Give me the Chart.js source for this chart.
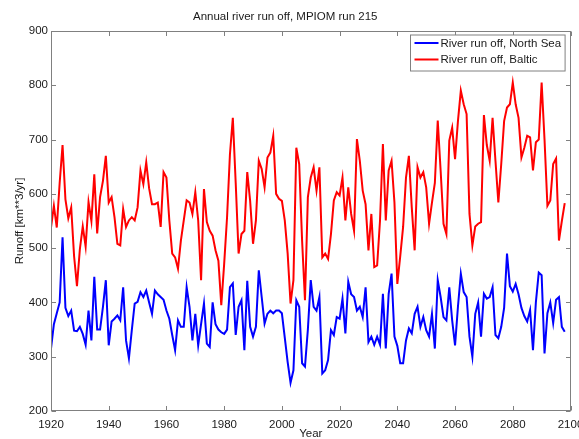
<!DOCTYPE html>
<html><head><meta charset="utf-8">
<script src="https://cdn.jsdelivr.net/npm/chart.js@4.4.1/dist/chart.umd.min.js"></script>
<style>html,body{margin:0;padding:0;background:#fff}#wrap{width:579px;height:439px}</style>
</head><body><div id="wrap"><canvas id="c" width="579" height="439"></canvas></div>
<script>
const years = [
1920,1921,1922,1923,1924,1925,1926,1927,1928,1929,
1930,1931,1932,1933,1934,1935,1936,1937,1938,1939,
1940,1941,1942,1943,1944,1945,1946,1947,1948,1949,
1950,1951,1952,1953,1954,1955,1956,1957,1958,1959,
1960,1961,1962,1963,1964,1965,1966,1967,1968,1969,
1970,1971,1972,1973,1974,1975,1976,1977,1978,1979,
1980,1981,1982,1983,1984,1985,1986,1987,1988,1989,
1990,1991,1992,1993,1994,1995,1996,1997,1998,1999,
2000,2001,2002,2003,2004,2005,2006,2007,2008,2009,
2010,2011,2012,2013,2014,2015,2016,2017,2018,2019,
2020,2021,2022,2023,2024,2025,2026,2027,2028,2029,
2030,2031,2032,2033,2034,2035,2036,2037,2038,2039,
2040,2041,2042,2043,2044,2045,2046,2047,2048,2049,
2050,2051,2052,2053,2054,2055,2056,2057,2058,2059,
2060,2061,2062,2063,2064,2065,2066,2067,2068,2069,
2070,2071,2072,2073,2074,2075,2076,2077,2078,2079,
2080,2081,2082,2083,2084,2085,2086,2087,2088,2089,
2090,2091,2092,2093,2094,2095,2096,2097,2098];

const northSea = [
315,360,380,400,520,390,375,385,348,347,
355,342,322,385,330,447,350,350,392,441,
321,365,370,376,367,428,330,297,349,398,
401,419,410,422,400,379,422,415,410,405,
385,370,340,312,367,355,355,428,392,330,
379,321,360,398,324,318,400,360,350,345,
342,350,428,435,340,392,404,312,440,355,
337,355,459,410,361,379,385,380,385,385,
380,335,290,252,275,404,392,288,282,350,
441,392,385,410,269,275,294,349,340,373,
370,407,343,438,415,410,385,392,373,428,
327,337,322,337,322,416,315,416,453,337,
320,288,288,330,352,343,379,392,355,373,
349,337,379,315,441,410,373,367,428,367,
321,392,453,419,410,337,300,379,400,337,
416,407,410,428,340,334,355,390,490,430,
420,434,415,390,375,365,386,312,400,455,
450,306,380,400,362,405,410,355,346];

const baltic = [
538,578,538,620,690,590,555,575,485,430,
498,540,503,585,550,636,527,594,624,670,
584,594,557,508,505,572,539,551,557,551,
575,643,618,658,610,581,581,584,539,640,
630,551,490,483,462,514,551,588,584,563,
603,551,441,609,548,532,523,496,477,395,
471,557,673,740,620,490,526,532,640,587,
508,551,661,646,612,667,676,707,600,591,
587,551,490,398,441,685,655,514,404,594,
630,649,606,649,483,490,480,526,588,603,
597,630,551,612,563,532,701,661,606,581,
496,563,465,468,551,692,551,643,661,584,
434,485,539,630,670,575,496,649,630,640,
612,545,584,620,735,643,545,526,698,722,
664,734,790,765,747,563,505,540,545,548,
745,690,661,740,661,584,655,734,759,765,
805,765,740,667,685,707,704,643,695,700,
805,700,578,588,655,665,514,550,583];

const xTicks = [1920,1940,1960,1980,2000,2020,2040,2060,2080,2100];
const yTicks = [200,300,400,500,600,700,800,900];
const seriesLabels = ['River run off, North Sea','River run off, Baltic'];
const seriesColors = ['#0000ff','#ff0000'];
const titleText = 'Annual river run off, MPIOM run 215';
const xTitleText = 'Year';
const yTitleText = 'Runoff [km**3/yr]';

const FAMILY = '"Liberation Sans", Arial, Helvetica, sans-serif';
const FS = 11.5;
const TEXT = '#1a1a1a';
const AXIS = '#808080';

const frameAndLegend = {
  id: 'frameAndLegend',
  afterDatasetsDraw(chart) {
    const {ctx, chartArea: a, scales: {x, y}} = chart;
    ctx.save();
    ctx.strokeStyle = AXIS;
    ctx.lineWidth = 1;
    const L = Math.round(a.left) + 0.5, R = Math.round(a.right) - 0.5;
    const T = Math.round(a.top) + 0.5, B = Math.round(a.bottom) - 0.5;
    ctx.strokeRect(L, T, R - L, B - T);
    const tl = 4.5;
    ctx.beginPath();
    xTicks.forEach(v => {
      const px = Math.round(x.getPixelForValue(v)) + 0.5;
      ctx.moveTo(px, B); ctx.lineTo(px, B - tl);
      ctx.moveTo(px, T); ctx.lineTo(px, T + tl);
    });
    yTicks.forEach(v => {
      const py = Math.round(y.getPixelForValue(v)) + 0.5;
      ctx.moveTo(L, py); ctx.lineTo(L + tl, py);
      ctx.moveTo(R, py); ctx.lineTo(R - tl, py);
    });
    ctx.stroke();

    // legend box (MATLAB NorthEast style)
    ctx.font = FS + 'px ' + FAMILY;
    const tw = Math.max(...seriesLabels.map(s => ctx.measureText(s).width));
    const lineLen = 24, gap = 2, padL = 4, padR = 4;
    const bw = padL + lineLen + gap + tw + padR;
    const bx = Math.round(R - 5.5 - bw) + 0.5;
    const by = T + 3.5;
    const rowH = 16.5;
    const bh = 36;
    ctx.fillStyle = '#ffffff';
    ctx.fillRect(bx, by, bw, bh);
    ctx.strokeStyle = AXIS;
    ctx.strokeRect(bx, by, bw, bh);
    ctx.textBaseline = 'middle';
    ctx.textAlign = 'left';
    seriesLabels.forEach((lab, i) => {
      const cy = by + 8 + i * rowH;
      ctx.strokeStyle = seriesColors[i];
      ctx.lineWidth = 2;
      ctx.beginPath();
      ctx.moveTo(bx + padL, cy); ctx.lineTo(bx + padL + lineLen, cy);
      ctx.stroke();
      ctx.fillStyle = TEXT;
      ctx.fillText(lab, bx + padL + lineLen + gap, cy + 0.5);
    });
    ctx.restore();
  }
};

new Chart(document.getElementById('c'), {
  type: 'line',
  data: {
    datasets: [
      { label: seriesLabels[0], data: years.map((yr, i) => ({x: yr, y: northSea[i]})),
        borderColor: seriesColors[0], borderWidth: 2, pointRadius: 0, tension: 0, fill: false },
      { label: seriesLabels[1], data: years.map((yr, i) => ({x: yr, y: baltic[i]})),
        borderColor: seriesColors[1], borderWidth: 2, pointRadius: 0, tension: 0, fill: false }
    ]
  },
  options: {
    responsive: false,
    animation: false,
    events: [],
    layout: { padding: { left: 0, right: 8.5, top: 0, bottom: 0 } },
    plugins: {
      legend: { display: false },
      tooltip: { enabled: false },
      title: { display: true, text: titleText, color: TEXT,
        font: { family: FAMILY, size: FS, weight: 'normal' },
        padding: { top: 10, bottom: 7.2 } }
    },
    scales: {
      x: {
        type: 'linear', min: 1920, max: 2100,
        afterBuildTicks: s => { s.ticks = xTicks.map(v => ({value: v})); },
        afterFit: s => { s.height = 28; s.paddingLeft = 0; s.paddingRight = 0; },
        ticks: { color: TEXT, font: { family: FAMILY, size: FS }, padding: 7,
          maxRotation: 0, autoSkip: false, callback: v => String(v) },
        grid: { display: false, drawTicks: false },
        border: { display: false },
        title: { display: true, text: xTitleText, color: TEXT,
          font: { family: FAMILY, size: FS }, padding: { top: 0, bottom: -2 } }
      },
      y: {
        type: 'linear', min: 200, max: 900,
        afterBuildTicks: s => { s.ticks = yTicks.map(v => ({value: v})); },
        afterFit: s => { s.width = 51; s.paddingTop = 0; s.paddingBottom = 0; },
        ticks: { color: TEXT, font: { family: FAMILY, size: FS }, padding: 3,
          callback: v => String(v) },
        grid: { display: false, drawTicks: false },
        border: { display: false },
        title: { display: true, text: yTitleText, color: TEXT,
          font: { family: FAMILY, size: FS }, padding: { top: 13, bottom: 0 } }
      }
    }
  },
  plugins: [frameAndLegend]
});
</script>
</body></html>
